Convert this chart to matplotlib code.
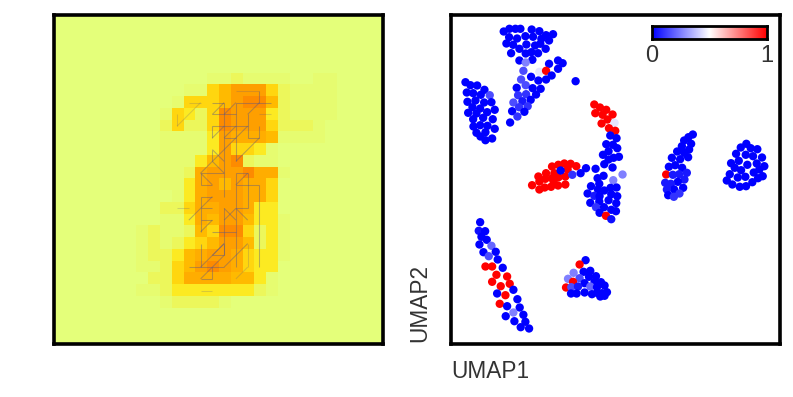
import numpy as np
import matplotlib
matplotlib.use("Agg")
import matplotlib.pyplot as plt
from matplotlib.collections import LineCollection

plt.rcParams['font.family'] = ['Liberation Sans', 'DejaVu Sans']

# Saliency image: 28x28, one digit per cell, scale 0-9
heat_rows = [
    "0000000000000000000000000000",
    "0000000000000000000000000000",
    "0000000000000000000000000000",
    "0000000000000000000000000000",
    "0000000000000000000000000000",
    "0000000000000112111100110000",
    "0000000000011457774211110000",
    "0000000000144457885211110000",
    "0000000001432487773211110000",
    "0000000002422487774222100000",
    "0000000001111376665111100000",
    "0000000001111374431000000000",
    "0000000001113578211000000000",
    "0000000001126777866100000000",
    "0000000001136757664000000000",
    "0000000000136777664000000000",
    "0000000002246677633000000000",
    "0000000001136577533100000000",
    "0000000121125488423100000000",
    "0000000121234577523100000000",
    "0000000122356776433100000000",
    "0000000112457876433000000000",
    "0000000022466665531000000000",
    "0000000112333333321000000000",
    "0000000001222210000000000000",
    "0000000000000000000000000000",
    "0000000000000000000000000000",
    "0000000000000000000000000000",
]
# Intensity that each digit stands for
heat_levels = [0.0, 0.025, 0.08, 0.23, 0.35, 0.52, 0.63, 0.75, 0.9, 1.0]

# Attribution line segments on the image grid: (col, row, col, row)
seg_strong = [(13,7,14,7),(14,7,13,8),(13,8,14,8),(15,7,18,7),
         (15,7,14,8),(14,7,14,13),(17,6,17,7),(17,7,16,8),(14,8,15,8),(16,8,16,10),
         (13,9,16,9),(16,10,17,10),(17,9,17,10),(17,10,15,12),(15,9,14,10),(14,10,15,10),
         (16,9,14,11),(13,9,13,10),(13,10,14,9),(13,11,13,12),(13,11,14,12),(13,12,14,13),
         (14,11,12,13),(15,7,15,12),(12,13,14,13),(12,13,12,14),(12,14,13,14),
         (12,13,13,14),(15,13,16,13),(16,13,15,14),(15,14,17,14),(16,13,16,16),(15,16,16,16),
         (17,14,17,21),(12,15,13,15),(13,15,11,17),(12,15,12,18),
         (12,18,13,17),(12,17,13,17),(14,16,14,20),(15,16,16,17),(14,16,15,17),(15,16,14,17),
         (13,18,15,18),(15,13,15,21),(14,13,14,15),(12,19,12,21),(11,21,14,21),(14,19,12,21),
         (13,20,14,20),(14,19,14,20),(13,20,14,19),(14,21,16,19),(14,20,12,22),(13,21,13,22),
         (12,22,13,22),(12,16,13,16)]
seg_faint = [(11,7,12,7),(12,7,10,9),(10,8,10,9),(15,6,17,6),(17,8,18,8),(10,16,11,16),
             (16,19,16,21),(16,21,15,22),(12,23,13,23)]

# Scatter: UMAP coordinates and predicted probability
umap1 = [53.3,59,65,70,81.3,89,102.7,95.7,58.7,66.7,75,82.7,91,98.7,56,62.7,76,69,84.7,90,95.3,60.7,75.3,81,87.7,
         69,82,75.3,98.7,107.7,112.3,107.7,73,89,95.7,101.3,80.7,95.7,88,70.7,75.3,66.3,82.3,90.3,85.7,67.7,75.7,
         80.3,72,63,68.7,77.3,61.7,74,67,59.7,125.3,
         15,20,26.7,34,16.3,22.7,30.3,39.3,17,25,33.7,41,22,29.7,44.3,17.7,26,36.7,22.7,32.7,42.3,23,29.7,37,44.3,
         26,35,30,41.7,35,
         144,149.7,156,145,152.3,162.3,157.3,151.3,164.3,158.7,165,
         160,166.3,156,162.7,167,158.3,152.7,168.7,163.3,158.3,154,162.3,145.3,153.3,147.3,163,172.3,149,140.7,
         160.3,166.3,154,147.7,137.3,144,149.3,161,167,158.3,149,140,166,145.7,153.7,161,165.7,149.3,155.7,161,
         101.7,108,114,120.3,126,117.3,104,95.7,88,115,108.3,101.7,95,89,103.3,81.7,115,107.7,100.7,94.3,89,
         110.3,122,130.3,135.7,
         242.7,238.3,234,241,231.7,239,227,234,221.7,230,238,225,218.7,232,236.7,216,222.7,229,234.3,227.7,215,
         220.7,233,224,216.7,229.3,218,223.7,
         296.3,290.7,300.7,307.3,286,295.7,303,312,288.7,281,297.3,306.7,314.3,284.7,291,309.3,303.7,279.7,287.7,
         295.3,312.7,308,276.7,302.3,282.3,289.7,296,
         29.7,28.3,34.7,31,36.3,29,41,33,45.3,38.3,47.3,35,41.7,52.3,46,56.7,41.7,59.3,50.3,63,46.7,55,67,49.3,
         56.7,69.3,63,73,55.3,64,75,70.3,78.7,
         135.3,129.3,123.3,133.3,140,117.7,129.3,138.7,145.7,122.7,134.3,144.3,150.7,115.7,121,127.7,140,146.7,
         154.3,120.7,126.3,134.3,141.7,146.7,151.7,156.7,150,154.3]
umap2 = [312,314.7,314.7,314.7,314,312.3,309.3,308.3,306.3,305,307.3,306.7,304.7,303,300,298.7,299,294.7,298,299.7,
         294.7,290.3,290,291.3,290.3,
         283,283.7,281,279.7,283,280.3,274.7,272.7,271.7,272.7,268,266.7,264,263,264,258.3,255.7,255.3,254.7,249,
         248.3,249.3,243.7,242.3,241,236.3,237.3,232.3,231.7,227,221,262.3,
         261.3,258.3,258,253.7,251,250.3,248.7,248.3,241.7,243,241,241.3,236.3,235,233.7,230.7,230,231.3,224.3,
         225.7,224.3,217,218.3,217.7,214.7,210.7,211.3,207,205,203.3,
         239,236,233.7,230.3,228.7,229,224,220,220.7,215.3,212.7,
         208,205.3,199.3,198.7,195.3,192.3,188.7,186.7,185.7,184,179.3,176,174.7,167.7,165.3,163.3,169,159.7,157.3,
         155.7,156,153,154,150,147.7,147.3,149.3,147.3,143.3,142,140.7,140.3,136.3,136.3,133.7,132.3,130.7,127.7,124.3,
         177,178.7,180,179.7,177.3,174,170.3,170.3,167,167,166.3,165.3,164.7,162,162,158.3,159,158,156.7,156,154,
         173,168.7,170.3,175.3,
         209,206.3,203,199.7,197.3,194,192,190.7,185.7,184.3,186.3,178.3,176.7,175.7,170.7,169,168.7,169.3,164,161.7,
         160.7,159.7,155.7,154,154,150,148.3,146.7,
         199.7,196,195.3,194.3,189.7,188.7,187.3,186,182.7,180.3,178.7,180,177.3,175.7,173.3,174,171,169.3,166,
         166.7,167.3,165.3,163,161.3,159,156.7,157.3,
         121.3,112.7,112.3,106.7,103.7,99,97.7,91.3,91.7,87.3,84,77,77,75.7,68.7,67,61.7,59.7,57.3,53.7,50,48.3,44.3,
         39.7,37.3,36,31,28.7,27.3,22.3,21.7,16.3,15,
         83.3,79,70.7,71.7,72.7,64.7,65.3,66.7,67.3,61.7,60.3,61.7,61.3,56,56.3,57,57,56.3,58,50,50,51,49.3,50.7,
         50.3,51.3,47,47.7]
prob = [0]*25 + [
         0,0,.25,0,0,0,0,.15,.45,1,0,0,0,0,.15,.15,0,0,0,0,.1,.1,0,.05,.15,.1,.1,0,0,.1,0,0] + [
         0,0,0,0,0,0,0,.15,0,0,0,0,0,0,0,0,0,0,0,0,0,0,0,0,0,0,0,0,0,0] + [
         1,1,1,1,1,1,1,1,.45,1,1] + [
         0,0,0,0,0,0,0,0,0,0,0,0,0,0,0,.25,.25,0,0,0,0,0,0,0,.05,0,0,0,0,0,0,0,.1,0,0,0,0,1,.03] + [
         1,1,1,1,1,1,1,1,1,1,1,1,1,1,1,1,1,1,1,1,1,0,.1,0,0] + [
         0,0,0,0,0,0,0,0,0,0,0,0,0,0,.05,1,.05,.05,.05,0,.05,.05,0,0,.05,.1,0,.1] + [0]*27 + [
         0,.03,0,0,0,0,.2,0,0,.15,0,1,1,0,1,1,1,1,1,0,0,1,0,1,0,0,.25,0,0,0,0,0,0] + [
         0,1,.25,0,0,.25,.15,0,0,1,0,0,0,1,.15,.05,.2,0,0,0,0,0,0,0,0,0,0,0]

cbar_ticks = ["0", "1"]
x_label = "UMAP1"
y_label = "UMAP2"

heat = np.array([[heat_levels[int(ch)] for ch in row] for row in heat_rows], dtype=float)

W, H = 793, 397
fig = plt.figure(figsize=(W / 100, H / 100), dpi=100)
fig.patch.set_facecolor("white")


def px_axes(x0, y0, x1, y1):
    return fig.add_axes([x0 / W, 1 - y1 / H, (x1 - x0) / W, (y1 - y0) / H])


ax1 = px_axes(53.5, 14.5, 383, 343.5)
ax1.imshow(heat, cmap="Wistia", vmin=0, vmax=1, interpolation="nearest", aspect="auto")
ax1.add_collection(LineCollection([[(a, b), (c, d)] for a, b, c, d in seg_strong],
                                  colors="#55558a", linewidths=0.75, alpha=0.42))
ax1.add_collection(LineCollection([[(a, b), (c, d)] for a, b, c, d in seg_faint],
                                  colors="#55558a", linewidths=0.75, alpha=0.22))
ax1.set_xlim(-0.5, 27.5)
ax1.set_ylim(27.5, -0.5)
ax1.set_xticks([]); ax1.set_yticks([])
for s in ax1.spines.values():
    s.set_linewidth(2.6); s.set_color("black")

ax2 = px_axes(450.5, 14.5, 780, 343.5)
ax2.scatter(umap1, umap2, c=prob, cmap="bwr", vmin=0, vmax=1, s=36, linewidths=0)
ax2.set_xlim(0, 330)
ax2.set_ylim(0, 329)
ax2.set_xticks([]); ax2.set_yticks([])
for s in ax2.spines.values():
    s.set_linewidth(2.6); s.set_color("black")

fig.text(451 / W, 1 - 371 / H, x_label, fontsize=16.3, color="#333333", ha="left", va="center")
fig.text(420 / W, 1 - 342 / H, y_label, fontsize=16.3, color="#333333", rotation=90, ha="center", va="bottom")

cax = px_axes(652, 26, 767, 39)
cax.imshow(np.linspace(0, 1, 256)[None, :], cmap="bwr", aspect="auto", extent=[0, 1, 0, 1])
cax.set_yticks([])
cax.set_xticks([0, 1])
cax.set_xticklabels(cbar_ticks, fontsize=17, color="#333333")
cax.tick_params(axis="x", length=0, pad=4.5)
for s in cax.spines.values():
    s.set_linewidth(2.0); s.set_color("black")

fig.savefig("out.png", dpi=100)
assert len(umap1) == len(umap2) == len(prob), (len(umap1), len(umap2), len(prob))
